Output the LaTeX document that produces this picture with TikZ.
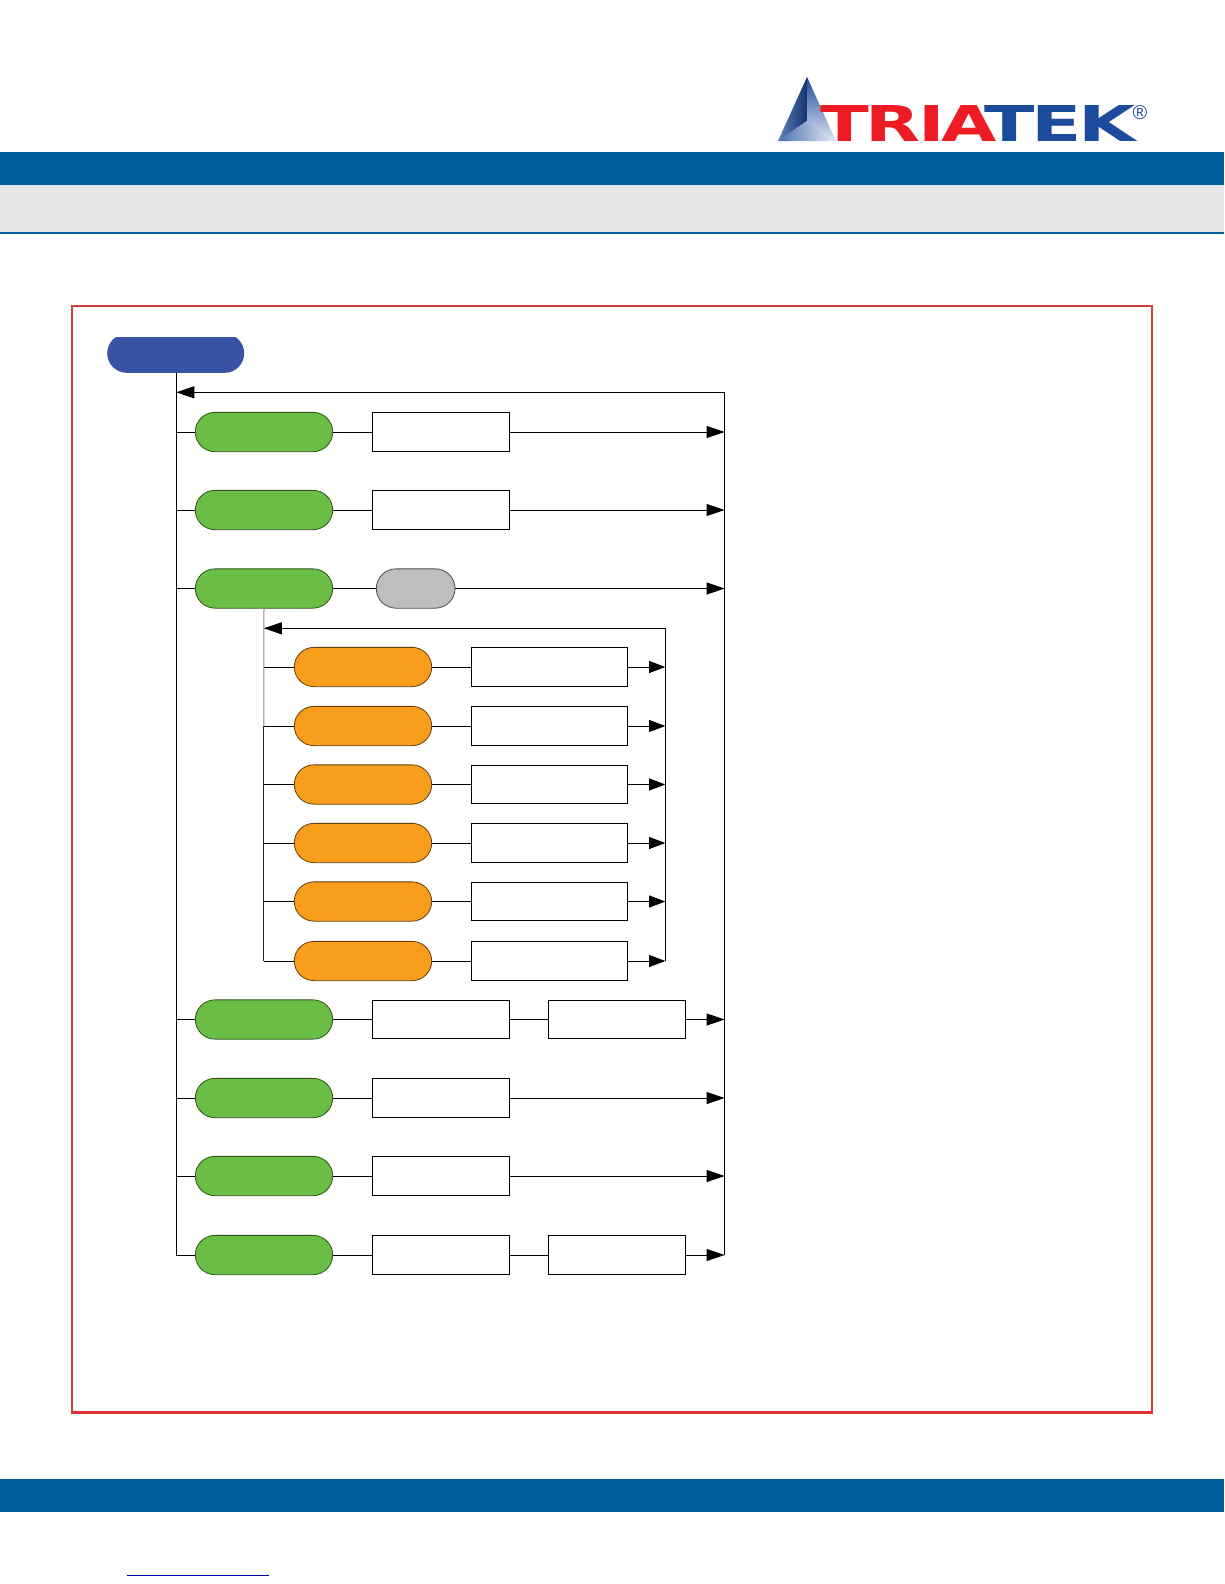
\documentclass[tikz,border=0pt]{standalone}
\usepackage{fontspec}
\usepackage{graphicx}
\setmainfont{Liberation Sans}
\newfontfamily\logofont{DejaVu Sans}
\usetikzlibrary{positioning,shapes.misc,arrows.meta}
\definecolor{barblue}{HTML}{005F9F}
\definecolor{stripgray}{HTML}{E6E7E8}
\definecolor{framered}{HTML}{C8423C}
\definecolor{framebright}{HTML}{DD3338}
\definecolor{startblue}{HTML}{3953A4}
\definecolor{pillgreen}{HTML}{6ABD45}
\definecolor{pillorange}{HTML}{F99D1C}
\definecolor{pillgray}{HTML}{BCBEC0}
\definecolor{logored}{HTML}{ED1C24}
\definecolor{logoblue}{HTML}{1C4A9C}
\tikzset{
    pill/.style={rounded rectangle,draw,line width=0.8pt,minimum width=137.4pt,minimum height=39.3pt,inner sep=0pt,outer sep=0pt},
    greenpill/.style={pill,fill=pillgreen,draw=pillgreen!45!black},
    orangepill/.style={pill,fill=pillorange,draw=pillorange!40!black},
    graypill/.style={pill,fill=pillgray,draw=pillgray!40!black,minimum width=78.7pt},
    whitebox/.style={rectangle,draw=black,fill=white,line width=1pt,minimum width=137pt,minimum height=38.6pt,inner sep=0pt,outer sep=0pt},
    widebox/.style={whitebox,minimum width=156.4pt},
    flowline/.style={draw=black,line width=1pt},
    flowarrow/.style={flowline,-{Triangle[length=18pt,width=12pt]}},
    rowarrow/.style={flowline,-{Triangle[length=16.3pt,width=12pt]}},
    logotext/.style={inner sep=0pt,outer sep=0pt,anchor=south west,font=\logofont\bfseries}
}
\begin{document}
\begin{tikzpicture}[x=1pt,y=-1pt]
        \useasboundingbox (0,0) rectangle (1224,1584);
        \fill[white] (0,0) rectangle (1224,1584);
        \fill[barblue] (0,152) rectangle (1224,185);
        \fill[stripgray] (0,185) rectangle (1224,232.3);
        \fill[barblue] (0,232.3) rectangle (1224,234);
        \fill[barblue] (0,1479) rectangle (1224,1512);
        \draw[blue!70!black,line width=1pt] (127,1575) -- (269,1575);
        \draw[framered,line width=2pt] (72,306) rectangle (1152,1412);
        \draw[framebright,line width=3.2pt] (71,1412.4) -- (1153,1412.4);
        % logo
        \shade[left color=logoblue!70!white,right color=logoblue!70!black] (807,77) -- (778,141) -- (807,121) -- cycle;
        \shade[top color=logoblue,bottom color=logoblue!15!white] (807,77) -- (836,141) -- (807,121) -- cycle;
        \shade[left color=logoblue!80!white,right color=logoblue!10!white] (778,141) -- (836,141) -- (807,121) -- cycle;
        \node[logotext,text=logored] (logoa) at (820,141) {\resizebox{177pt}{36pt}{T\kern-0.04em R\kern-0.04em I\kern-0.04em A}};
        \node[logotext,text=logoblue] (logob) at (984,141) {\resizebox{152pt}{36pt}{T\kern-0.04em E\kern-0.04em K}};
        \node[inner sep=0pt,text=logoblue,font=\fontsize{20}{20}\selectfont] (logoc) at (1140,113) {®};
        % main column
        \begin{scope}
            \clip (100,337) rectangle (250,380);
            \node[pill,fill=startblue,draw=none,minimum width=137pt,minimum height=39pt] (start) at (175.7,353.3) {};
        \end{scope}
        \foreach \n/\y in {1/432,2/510,3/588.5,4/1019.5,5/1098,6/1176,7/1255} {
            \coordinate (s\n) at (176.3,\y);
            \coordinate (r\n) at (724.6,\y);
            \node[greenpill] (g\n) at (264,\y) {};
            \draw[flowline] (s\n) -- (g\n.west);
        }
        \coordinate (s0) at (176.3,392.3);
        \foreach \n in {1,2,4,5,6,7} {
            \node[whitebox,right=39.5pt of g\n] (b\n) {};
            \draw[flowline] (g\n.east) -- (b\n.west);
        }
        \foreach \n in {1,2,5,6} {
            \draw[flowarrow] (b\n.east) -- (r\n);
        }
        \foreach \n in {4,7} {
            \node[whitebox,right=39pt of b\n] (c\n) {};
            \draw[flowline] (b\n.east) -- (c\n.west);
            \draw[flowarrow] (c\n.east) -- (r\n);
        }
        \node[graypill,right=43.6pt of g3] (h3) {};
        \draw[flowline] (g3.east) -- (h3.west);
        \draw[flowarrow] (h3.east) -- (r3);
        \draw[flowline] (start.south -| s0) -- (s7);
        \draw[flowarrow] (r7) -- (r7 |- s0) -- (s0);
        % sub menu
        \coordinate (t0) at (263.8,628.3);
        \foreach \n/\y in {1/667,2/726,3/784.5,4/843,5/901.5,6/961} {
            \coordinate (t\n) at (263.8,\y);
            \coordinate (q\n) at (665.4,\y);
            \node[orangepill] (o\n) at (363,\y) {};
            \node[widebox,right=39.7pt of o\n] (p\n) {};
            \draw[flowline] (t\n) -- (o\n.west);
            \draw[flowline] (o\n.east) -- (p\n.west);
            \draw[rowarrow] (p\n.east) -- (q\n);
        }
        \draw[flowline,draw=black!45] (g3.south) -- (t2);
        \draw[flowline,draw=black!85] (t2) -- (t6);
        \draw[flowarrow] (q6) -- (q6 |- t0) -- (t0);
    \end{tikzpicture}
\end{document}
